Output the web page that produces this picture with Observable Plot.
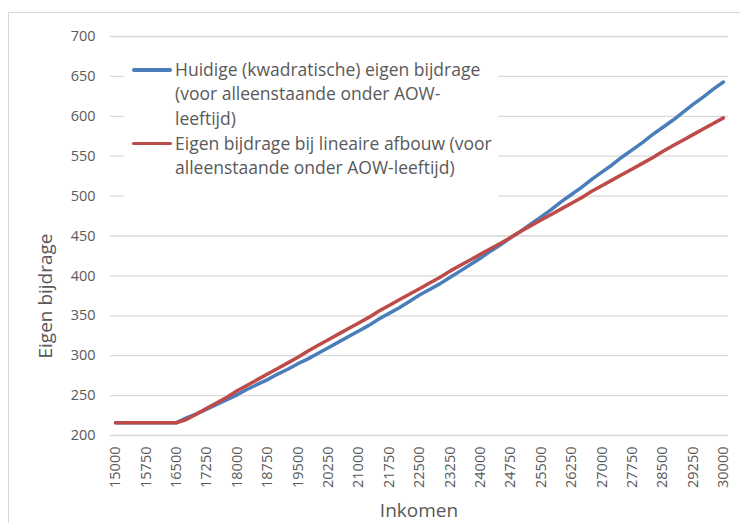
<!DOCTYPE html>
<html>
<head>
<meta charset="utf-8">
<script src="https://cdn.jsdelivr.net/npm/d3@7"></script>
<script src="https://cdn.jsdelivr.net/npm/@observablehq/plot@0.6"></script>
<style>
  html, body { margin: 0; padding: 0; background: #fff; }
  #wrap { position: relative; width: 740px; height: 523px; overflow: hidden; font-family: "Open Sans", Lato, sans-serif; }
  #frame { position: absolute; left: 8px; top: 12px; width: 760px; height: 540px; border: 1.3px solid #d9d9d9; box-sizing: border-box; pointer-events: none; }
  #legend { position: absolute; left: 124px; top: 46px; width: 374px; height: 178px; background: #fff; }
  .entry { position: absolute; left: 8px; display: flex; align-items: flex-start; }
  .swatch { width: 40px; height: 3.5px; border-radius: 2px; margin-top: 11px; margin-right: 3px; flex: none; }
  .ltext { font-size: 17.5px; line-height: 24.4px; color: #595959; white-space: nowrap; }
  .ytitle { position: absolute; left: 45px; top: 296px; transform: translate(-50%, -50%) rotate(-90deg); font-size: 19px; color: #595959; white-space: nowrap; }
  .xtitle { position: absolute; left: 419px; top: 510px; transform: translate(-50%, -50%); font-size: 19px; color: #595959; white-space: nowrap; }
  svg text { font-family: "Open Sans", Lato, sans-serif; }
</style>
</head>
<body>
<div id="wrap"></div>
<script>
// Inkomen (categories)
const incomes = [15000,15250,15500,15750,16000,16250,16500,16750,17000,17250,17500,17750,18000,18250,18500,18750,19000,19250,19500,19750,20000,20250,20500,20750,21000,21250,21500,21750,22000,22250,22500,22750,23000,23250,23500,23750,24000,24250,24500,24750,25000,25250,25500,25750,26000,26250,26500,26750,27000,27250,27500,27750,28000,28250,28500,28750,29000,29250,29500,29750,30000];

// Huidige (kwadratische) eigen bijdrage
const huidige = [216,216,216,216,216,216,216,222,227,233,239,245,251,258,264,270,277,283,290,296,303,310,317,324,331,338,346,353,360,368,376,383,390,398,406,414,422,431,439,448,456,465,474,483,493,502,511,521,530,539,549,558,567,577,586,595,605,615,624,634,643];

// Eigen bijdrage bij lineaire afbouw
const lineair = [216,216,216,216,216,216,216,220,227,234,241,248,256,263,270,277,284,291,298,306,313,320,327,334,341,348,356,363,370,377,384,391,398,406,413,420,427,434,441,448,456,463,470,477,484,491,498,506,513,520,527,534,541,548,556,563,570,577,584,591,598];

const xTickLabels = [15000,15750,16500,17250,18000,18750,19500,20250,21000,21750,22500,23250,24000,24750,25500,26250,27000,27750,28500,29250,30000];
const yTicks = [200,250,300,350,400,450,500,550,600,650,700];

const seriesNames = [
  "Huidige (kwadratische) eigen bijdrage (voor alleenstaande onder AOW-leeftijd)",
  "Eigen bijdrage bij lineaire afbouw (voor alleenstaande onder AOW-leeftijd)"
];
const legendLines = [
  ["Huidige (kwadratische) eigen bijdrage", "(voor alleenstaande onder AOW-", "leeftijd)"],
  ["Eigen bijdrage bij lineaire afbouw (voor", "alleenstaande onder AOW-leeftijd)"]
];
const colors = ["#4A7EBB", "#BE4B48"];

const blueData = incomes.map((x, i) => ({x, y: huidige[i], s: seriesNames[0]}));
const redData = incomes.map((x, i) => ({x, y: lineair[i], s: seriesNames[1]}));

const chart = Plot.plot({
  width: 740,
  height: 523,
  marginLeft: 110,
  marginRight: 12,
  marginTop: 36,
  marginBottom: 88,
  style: {background: "transparent", color: "#595959", fontSize: "14.5px", fontFamily: "'Open Sans', Lato, sans-serif"},
  x: {type: "linear", domain: [14875, 30125]},
  y: {domain: [200, 700]},
  marks: [
    Plot.ruleY(yTicks, {stroke: "#d9d9d9", strokeWidth: 1.3}),
    Plot.axisY({ticks: yTicks, tickSize: 0, tickPadding: 15, label: null, fontSize: 14.5, fill: "#595959"}),
    Plot.axisX({ticks: xTickLabels, tickSize: 0, tickPadding: 11, tickRotate: -90, tickFormat: d => String(d), label: null, fontSize: 14.5, fill: "#595959"}),
    Plot.line(blueData, {x: "x", y: "y", stroke: colors[0], strokeWidth: 3.5, strokeLinejoin: "round", strokeLinecap: "round"}),
    Plot.line(redData, {x: "x", y: "y", stroke: colors[1], strokeWidth: 3.5, strokeLinejoin: "round", strokeLinecap: "round"})
  ]
});

const wrap = document.getElementById("wrap");
chart.style.position = "absolute";
chart.style.left = "0px";
chart.style.top = "0px";
wrap.appendChild(chart);

const frame = document.createElement("div");
frame.id = "frame";
wrap.appendChild(frame);

const legend = document.createElement("div");
legend.id = "legend";
const tops = [11, 84.5];
legendLines.forEach((lines, i) => {
  const e = document.createElement("div");
  e.className = "entry";
  e.style.top = tops[i] + "px";
  const sw = document.createElement("div");
  sw.className = "swatch";
  sw.style.background = colors[i];
  const t = document.createElement("div");
  t.className = "ltext";
  t.innerHTML = lines.join("<br>");
  e.appendChild(sw);
  e.appendChild(t);
  legend.appendChild(e);
});
wrap.appendChild(legend);

const yt = document.createElement("div");
yt.className = "ytitle";
yt.textContent = "Eigen bijdrage";
wrap.appendChild(yt);

const xt = document.createElement("div");
xt.className = "xtitle";
xt.textContent = "Inkomen";
wrap.appendChild(xt);
</script>
</body>
</html>
